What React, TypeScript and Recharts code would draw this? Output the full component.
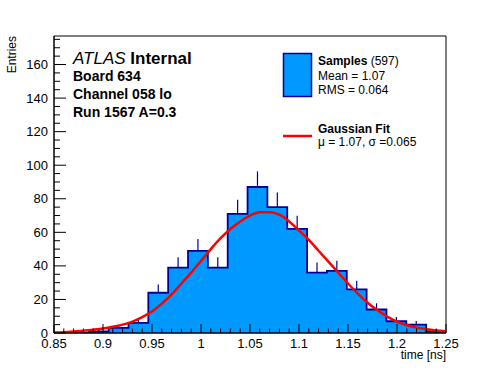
import React from "react";
import { ComposedChart, Area, Line, Scatter, ErrorBar, XAxis, YAxis, ReferenceArea } from "recharts";

// Istogramma: 20 bin tra 0.845 e 1.25 (i primi due cadono quasi fuori dal frame)
const binEdges = [
  0.845, 0.86525, 0.8855, 0.90575, 0.926, 0.94625, 0.9665, 0.98675, 1.007, 1.02725, 1.0475,
  1.06775, 1.088, 1.10825, 1.1285, 1.14875, 1.169, 1.18925, 1.2095, 1.22975, 1.25,
];
const binCounts = [0, 0, 1, 3, 6, 24, 39, 49, 39, 71, 87, 75, 62, 36, 37, 26, 14, 7, 5, 1];
const binErrors = [0, 0, 1, 1.7, 2.4, 4.9, 6.2, 7, 6.2, 8.4, 9.3, 8.7, 7.9, 6, 6.1, 5.1, 3.7, 2.6, 2.2, 1];

// curva del fit
const fitX = [
  0.85, 0.86, 0.87, 0.88, 0.89, 0.9, 0.91, 0.92, 0.93, 0.94, 0.95, 0.96, 0.97, 0.98, 0.99, 1.0, 1.01,
  1.02, 1.03, 1.04, 1.05, 1.06, 1.07, 1.08, 1.09, 1.1, 1.11, 1.12, 1.13, 1.14, 1.15, 1.16, 1.17, 1.18,
  1.19, 1.2, 1.21, 1.22, 1.23, 1.24, 1.25,
];
const fitY = [
  0.3, 0.5, 0.9, 1.4, 2.0, 2.7, 3.7, 5.0, 6.8, 9.5, 12.8, 17.5, 23, 29.5, 36, 43, 50, 56.5, 62, 66.5,
  70, 72, 72, 70.5, 66.5, 61, 55.5, 49, 42.5, 36, 29.5, 23.5, 18, 13.5, 9.8, 6.8, 4.6, 3.2, 2.2, 1.5, 1.0,
];

const xMajorTicks = [0.85, 0.9, 0.95, 1.0, 1.05, 1.1, 1.15, 1.2, 1.25];
const xTickLabels = ["0.85", "0.9", "0.95", "1", "1.05", "1.1", "1.15", "1.2", "1.25"];
const yMajorTicks = [0, 20, 40, 60, 80, 100, 120, 140, 160];

const X_MIN = 0.85;
const X_MAX = 1.25;
const Y_MAX = 177;

const FONT = "'Liberation Sans', Arial, Helvetica, sans-serif";
const FILL = "#0099ff";
const EDGE = "#000099";

// tacche minori (ogni 0.01 su x, ogni 5 su y)
const xMinorTicks = Array.from({ length: 41 }, (_, i) => Math.round((X_MIN + i * 0.01) * 1000) / 1000);
const yMinorTicks = Array.from({ length: 36 }, (_, i) => i * 5);

const histData = binCounts.map((c, i) => ({ x: binEdges[i], y: c }));
histData.push({ x: binEdges[binEdges.length - 1], y: binCounts[binCounts.length - 1] });

const errData = binCounts
  .map((c, i) => ({ x: (binEdges[i] + binEdges[i + 1]) / 2, y: c, err: [0, binErrors[i]] }))
  .filter((d) => d.y > 0);

const fitData = fitX.map((x, i) => ({ x, y: fitY[i] }));

const near = (a: number, b: number) => Math.abs(a - b) < 1e-6;

function XTick(props: any) {
  const { x, y, payload } = props;
  const idx = xMajorTicks.findIndex((v) => near(v, payload.value));
  const major = idx >= 0;
  return (
    <g>
      <line x1={x} x2={x} y1={y} y2={y - (major ? 9 : 4.5)} stroke="#000" strokeWidth={1} />
      {major && (
        <text x={x} y={y + 15} textAnchor="middle" fontSize={13} fontFamily={FONT} fill="#000">
          {xTickLabels[idx]}
        </text>
      )}
    </g>
  );
}

function YTick(props: any) {
  const { x, y, payload } = props;
  const major = yMajorTicks.some((v) => near(v, payload.value));
  return (
    <g>
      <line x1={x} x2={x + (major ? 12 : 6)} y1={y} y2={y} stroke="#000" strokeWidth={1} />
      {major && (
        <text x={x - 6} y={y + 4.5} textAnchor="end" fontSize={13} fontFamily={FONT} fill="#000">
          {payload.value}
        </text>
      )}
    </g>
  );
}

function Labels() {
  return (
    <svg
      width={496}
      height={372}
      style={{ position: "absolute", left: 0, top: 0, pointerEvents: "none" }}
      fontFamily={FONT}
    >
      <text x={12} y={36} transform="rotate(-90 12 36)" dy={4} textAnchor="end" fontSize={12}>
        Entries
      </text>
      <text x={446} y={359} textAnchor="end" fontSize={12}>
        time [ns]
      </text>

      <text x={73} y={64} fontSize={17}>
        <tspan fontStyle="italic">ATLAS</tspan>
        <tspan fontWeight="bold"> Internal</tspan>
      </text>
      <text x={73} y={81} fontSize={14} fontWeight="bold">Board 634</text>
      <text x={73} y={99} fontSize={14} fontWeight="bold">Channel 058 lo</text>
      <text x={73} y={117} fontSize={14} fontWeight="bold">Run 1567 A=0.3</text>

      <rect x={283.5} y={53.5} width={28} height={43} fill={FILL} stroke={EDGE} strokeWidth={1.5} />
      <text x={318} y={65} fontSize={12}>
        <tspan fontWeight="bold">Samples</tspan>
        <tspan> (597)</tspan>
      </text>
      <text x={318} y={80} fontSize={12}>Mean = 1.07</text>
      <text x={318} y={94} fontSize={12}>RMS = 0.064</text>

      <line x1={283} x2={312} y1={136} y2={136} stroke="#ff0000" strokeWidth={2.5} />
      <text x={318} y={133} fontSize={12} fontWeight="bold">Gaussian Fit</text>
      <text x={318} y={146} fontSize={12}>μ = 1.07, σ =0.065</text>
    </svg>
  );
}

export default function App() {
  return (
    <div style={{ position: "absolute", left: 0, top: 0, width: 496, height: 372, background: "#fff" }}>
      <ComposedChart width={496} height={372} margin={{ top: 36, right: 50, bottom: 0, left: 0 }}>
        <XAxis
          dataKey="x"
          type="number"
          domain={[X_MIN, X_MAX]}
          allowDataOverflow
          ticks={xMinorTicks}
          interval={0}
          height={39}
          tickSize={0}
          tickMargin={0}
          tickLine={false}
          axisLine={{ stroke: "#000" }}
          tick={<XTick />}
        />
        <YAxis
          type="number"
          domain={[0, Y_MAX]}
          allowDataOverflow
          ticks={yMinorTicks}
          interval={0}
          width={54}
          tickSize={0}
          tickMargin={0}
          tickLine={false}
          axisLine={{ stroke: "#000" }}
          tick={<YTick />}
        />
        <Area
          data={histData}
          dataKey="y"
          type="stepAfter"
          fill={FILL}
          fillOpacity={1}
          stroke={EDGE}
          strokeWidth={1.8}
          isAnimationActive={false}
        />
        <Scatter data={errData} dataKey="y" shape={() => <g />} isAnimationActive={false}>
          <ErrorBar dataKey="err" direction="y" width={0} stroke={EDGE} strokeWidth={1.2} />
        </Scatter>
        <Line
          data={fitData}
          dataKey="y"
          type="monotone"
          stroke="#ff0000"
          strokeWidth={2.5}
          dot={false}
          isAnimationActive={false}
        />
        <ReferenceArea x1={X_MIN} x2={X_MAX} y1={0} y2={Y_MAX} fill="none" stroke="#000" strokeWidth={1} />
      </ComposedChart>
      <Labels />
    </div>
  );
}
